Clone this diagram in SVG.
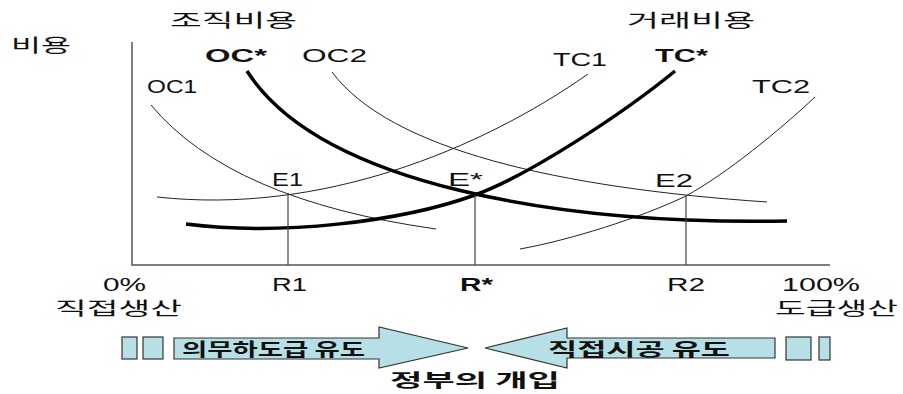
<svg xmlns="http://www.w3.org/2000/svg" width="903" height="394" viewBox="0 0 903 394">
<style>
.lat{font-family:"Liberation Sans",Arial,sans-serif;font-size:18px;fill:#111}
.b{font-weight:bold}
.kr{font-family:"Noto Sans CJK KR","Liberation Sans",sans-serif;font-size:18px;fill:#111}
.thin{fill:none;stroke:#222;stroke-width:1}
.thick{fill:none;stroke:#000;stroke-width:3.5}
.axis{fill:none;stroke:#555;stroke-width:1.5}
.drop{fill:none;stroke:#444;stroke-width:1.2}
.box{fill:#b7e0e6;stroke:#333;stroke-width:1.2}
</style>
<rect width="903" height="394" fill="#fff"/>
<g id="axes">
<path class="axis" d="M132,42 V265 H830"/>
</g>
<g id="connectors">
<path id="OC1" class="thin" d="M151,105 Q230,200 436,229"/>
<path id="OC2" class="thin" d="M332,72 C390,150 560,188 767,202"/>
<path id="TC1" class="thin" d="M157,197 C320,215 480,150 588,74"/>
<path id="TC2" class="thin" d="M520,249 C570,240 640,218 686,196 C726,174 780,130 815,97"/>
<path id="OCstar" class="thick" d="M247,71 C320,185 560,225 787,221"/>
<path id="TCstar" class="thick" d="M186,224 C280,236 400,222 475,195 C530,175 625,112 675,71"/>
<path class="drop" d="M288,193 V265 M475,195 V265 M686,196 V265"/>
</g>
<g id="titles">
<text class="kr" x="170" y="27" textLength="127" lengthAdjust="spacingAndGlyphs">조직비용</text>
<text class="kr" x="627" y="27" textLength="128" lengthAdjust="spacingAndGlyphs">거래비용</text>
<text class="kr" x="11" y="52" textLength="60" lengthAdjust="spacingAndGlyphs">비용</text>
</g>
<g id="curve-labels">
<text class="lat b" x="205" y="62" textLength="62" lengthAdjust="spacingAndGlyphs">OC*</text>
<text class="lat" x="302" y="62" textLength="65" lengthAdjust="spacingAndGlyphs">OC2</text>
<text class="lat" x="147" y="93" textLength="50" lengthAdjust="spacingAndGlyphs">OC1</text>
<text class="lat" x="553" y="66" textLength="54" lengthAdjust="spacingAndGlyphs">TC1</text>
<text class="lat b" x="655" y="62" textLength="53" lengthAdjust="spacingAndGlyphs">TC*</text>
<text class="lat" x="752" y="93" textLength="58" lengthAdjust="spacingAndGlyphs">TC2</text>
</g>
<g id="points">
<text class="lat" x="272" y="186" textLength="31" lengthAdjust="spacingAndGlyphs">E1</text>
<text class="lat" x="448" y="186" textLength="35" lengthAdjust="spacingAndGlyphs">E*</text>
<text class="lat" x="655" y="187" textLength="38" lengthAdjust="spacingAndGlyphs">E2</text>
</g>
<g id="x-labels">
<text class="lat" x="103" y="291" textLength="43" lengthAdjust="spacingAndGlyphs">0%</text>
<text class="lat" x="272" y="291" textLength="35" lengthAdjust="spacingAndGlyphs">R1</text>
<text class="lat b" x="460" y="291" textLength="33" lengthAdjust="spacingAndGlyphs">R*</text>
<text class="lat" x="667" y="291" textLength="38" lengthAdjust="spacingAndGlyphs">R2</text>
<text class="lat" x="782" y="291" textLength="78" lengthAdjust="spacingAndGlyphs">100%</text>
<text class="kr" x="55" y="315" textLength="127" lengthAdjust="spacingAndGlyphs">직접생산</text>
<text class="kr" x="775" y="315" textLength="123" lengthAdjust="spacingAndGlyphs">도급생산</text>
</g>
<g id="left-arrow">
<rect class="box" x="122" y="337" width="15" height="22"/>
<rect class="box" x="143" y="337" width="20" height="22"/>
<path class="box" d="M174,338 H379 V327 L468,348 L379,368 V359 H174 Z"/>
<text class="kr b" x="182" y="356" textLength="183" lengthAdjust="spacingAndGlyphs">의무하도급 유도</text>
</g>
<g id="right-arrow">
<path class="box" d="M775,338 H567 V328 L485,348 L567,368 V358 H775 Z"/>
<rect class="box" x="786" y="337" width="25" height="23"/>
<rect class="box" x="819" y="337" width="11" height="23"/>
<text class="kr b" x="548" y="356" textLength="182" lengthAdjust="spacingAndGlyphs">직접시공 유도</text>
</g>
<g id="caption">
<text class="kr b" x="390" y="387" textLength="170" lengthAdjust="spacingAndGlyphs">정부의 개입</text>
</g>
</svg>
